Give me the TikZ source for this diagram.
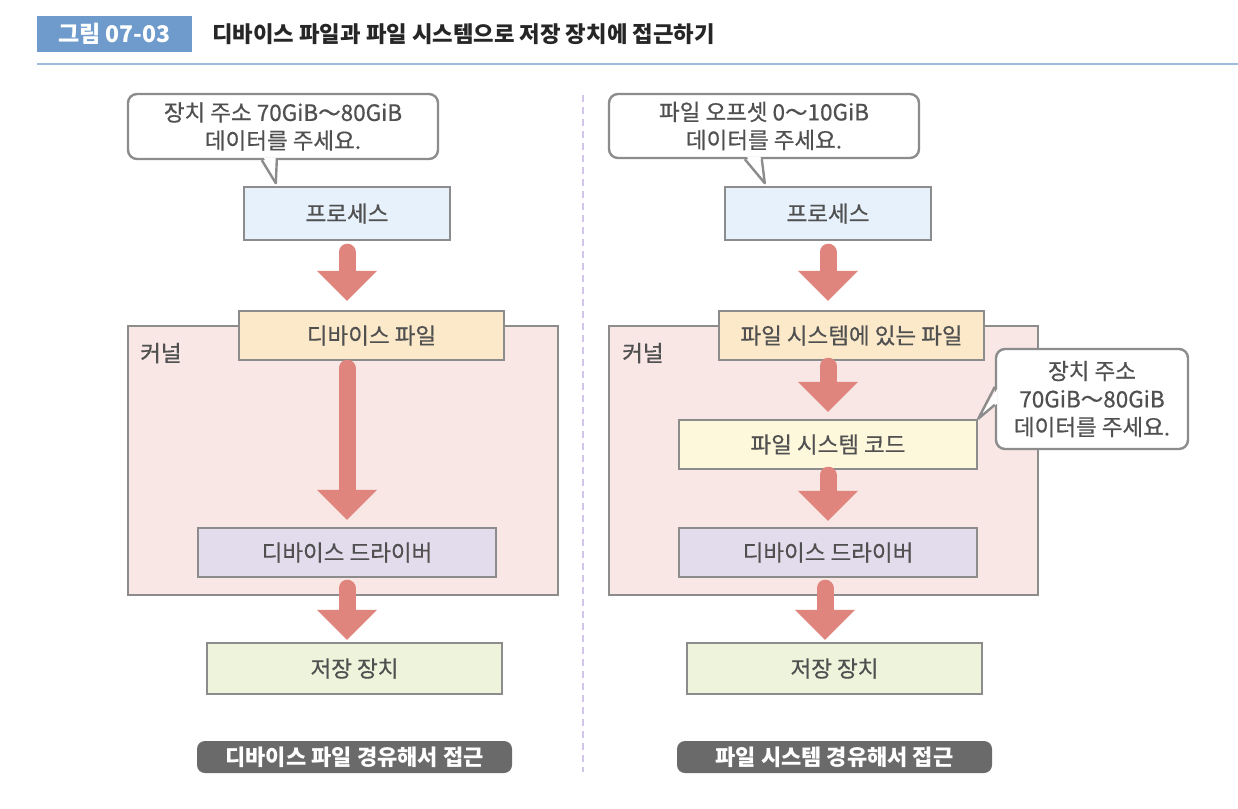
\documentclass[tikz,border=0pt]{standalone}
\usepackage{fontspec}
\setmainfont{Noto Sans CJK KR}
\newfontfamily\bodyfont{Noto Sans CJK KR}[FakeBold=0.6]
\usetikzlibrary{calc}
\definecolor{txtgray}{HTML}{505050}
\definecolor{bordergray}{HTML}{8C8C8C}
\definecolor{salmon}{HTML}{E0857D}
\definecolor{procfill}{HTML}{E7F1FB}
\definecolor{filefill}{HTML}{FBE9C9}
\definecolor{kernfill}{HTML}{F8E7E5}
\definecolor{codefill}{HTML}{FDF7DC}
\definecolor{drvfill}{HTML}{E3DCEC}
\definecolor{storfill}{HTML}{EEF4DC}
\definecolor{labelfill}{HTML}{6A6A6A}
\definecolor{titleblue}{HTML}{6E9BCB}
\definecolor{lineblue}{HTML}{9DBDE0}
\definecolor{dashlav}{HTML}{D2C6E8}
\tikzset{
  every node/.style={font=\bodyfont\fontsize{22.5}{28}\selectfont, text=txtgray, inner sep=0pt},
  box/.style={draw=bordergray, line width=2.4pt, rectangle},
  bubble/.style={draw=bordergray, line width=2.4pt, fill=white, rounded corners=9pt, align=center},
  tailline/.style={draw=bordergray, line width=2.4pt, line join=round},
  arrowshaft/.style={draw=salmon, line width=17pt, line cap=round},
  arrowhead/.style={fill=salmon},
  caption/.style={fill=labelfill, rounded corners=8pt, text=white, font=\fontsize{22}{28}\selectfont\bfseries},
}
\newcommand{\fatarrow}[2]{%
  \draw[arrowshaft] let \p1=#1, \p2=#2 in (\x2,\y1) -- (\x2,\y2+30pt);
  \fill[arrowhead] let \p2=#2 in (\x2-30pt,\y2+30pt) -- (\x2+30pt,\y2+30pt) -- (\x2,\y2) -- cycle;}
\begin{document}
\begin{tikzpicture}[x=1pt,y=-1pt]
\useasboundingbox (0,0) rectangle (1238,808);
\fill[white] (0,0) rectangle (1238,808);

% title
\node[fill=titleblue, minimum width=155pt, minimum height=36pt, text=white, font=\fontsize{23}{28}\selectfont\bfseries] (fig) at (114.5,34) {그림 07-03};
\node[anchor=west, text=black!85, font=\fontsize{22.3}{28}\selectfont\bfseries] (title) at (212,34) {디바이스 파일과 파일 시스템으로 저장 장치에 접근하기};
\draw[lineblue, line width=2pt] (37,64) -- (1238,64);

% separator
\draw[dashlav, line width=2pt, dash pattern=on 7pt off 5pt] (583,95) -- (583,772);

% ---------- left ----------
\node[bubble, minimum width=310pt, minimum height=65pt] (bubL) at (283,126.5) {장치 주소 70GiB～80GiB\\데이터를 주세요.};
\coordinate (tLa) at ($(bubL.south west)+(135,0)$);
\coordinate (tLb) at ($(bubL.south west)+(149,23)$);
\coordinate (tLc) at ($(bubL.south west)+(150,0)$);
\fill[white] ($(tLa)+(2,-2.5)$) -- ($(tLc)+(-1.3,-2.5)$) -- (tLb) -- cycle;
\draw[tailline] (tLa) -- (tLb) -- (tLc);

\node[box, fill=procfill, minimum width=206pt, minimum height=53pt] (procL) at (347,213.5) {프로세스};
\node[box, fill=kernfill, minimum width=430pt, minimum height=269pt] (kernL) at (343,460.5) {};
\node[anchor=west] (kernLlbl) at (140,353) {커널};
\node[box, fill=filefill, minimum width=265pt, minimum height=49pt] (devL) at (371.5,335.5) {디바이스 파일};
\node[box, fill=drvfill, minimum width=298pt, minimum height=49pt] (drvL) at (347,552.5) {디바이스 드라이버};
\node[box, fill=storfill, minimum width=295pt, minimum height=51pt] (storL) at (354.5,668.5) {저장 장치};
\node[caption, minimum width=315pt, minimum height=32pt] (capL) at (354.5,757) {디바이스 파일 경유해서 접근};

\fatarrow{($(procL.south)+(0,11)$)}{($(procL.south |- devL.north)+(0,-9)$)}
\fatarrow{($(drvL.north |- devL.south)+(0,7)$)}{($(drvL.north)+(0,-7)$)}
\fatarrow{($(drvL.north |- kernL.south)+(0,-8)$)}{($(drvL.north |- storL.north)+(0,-2)$)}

% ---------- right ----------
\node[bubble, minimum width=310pt, minimum height=64pt] (bubR) at (764,126) {파일 오프셋 0～10GiB\\데이터를 주세요.};
\coordinate (tRa) at ($(bubR.south west)+(137,0)$);
\coordinate (tRb) at ($(bubR.south west)+(157,24)$);
\coordinate (tRc) at ($(bubR.south west)+(154,0)$);
\fill[white] ($(tRa)+(2,-2.5)$) -- ($(tRc)+(-1.3,-2.5)$) -- (tRb) -- cycle;
\draw[tailline] (tRa) -- (tRb) -- (tRc);

\node[box, fill=procfill, minimum width=206pt, minimum height=53pt] (procR) at (828,213.5) {프로세스};
\node[box, fill=kernfill, minimum width=429pt, minimum height=269pt] (kernR) at (823.5,460.5) {};
\node[anchor=west] (kernRlbl) at (622,353) {커널};
\node[box, fill=filefill, minimum width=265pt, minimum height=49pt] (fsfile) at (851.5,335.5) {파일 시스템에 있는 파일};
\node[box, fill=codefill, minimum width=298pt, minimum height=49pt] (fscode) at (828,444.5) {파일 시스템 코드};
\node[box, fill=drvfill, minimum width=298pt, minimum height=49pt] (drvR) at (828,552.5) {디바이스 드라이버};
\node[box, fill=storfill, minimum width=295pt, minimum height=51pt] (storR) at (834.5,668.5) {저장 장치};
\node[caption, minimum width=315pt, minimum height=32pt] (capR) at (834.5,757) {파일 시스템 경유해서 접근};

\node[bubble, minimum width=192pt, minimum height=100pt] (bub2) at (1092,399) {장치 주소\\70GiB～80GiB\\데이터를 주세요.};
\coordinate (t2a) at ($(bub2.north west)+(0,39)$);
\coordinate (t2b) at (fscode.north east);
\coordinate (t2c) at ($(bub2.north west)+(0,57)$);
\fill[white] ($(t2a)+(2.5,2)$) -- ($(t2c)+(2.5,-1.3)$) -- (t2b) -- cycle;
\draw[tailline] (t2a) -- (t2b) -- (t2c);

\fatarrow{($(procR.south)+(0,11)$)}{($(procR.south |- fsfile.north)+(0,-9)$)}
\fatarrow{($(fscode.north |- fsfile.south)+(0,5)$)}{($(fscode.north)+(0,-7)$)}
\fatarrow{($(fscode.south)+(0,5)$)}{($(drvR.north)+(0,-6)$)}
\fatarrow{($(drvR.north |- kernR.south)+(-3,-8)$)}{($(drvR.north |- storR.north)+(-3,-2)$)}
\end{tikzpicture}
\end{document}
